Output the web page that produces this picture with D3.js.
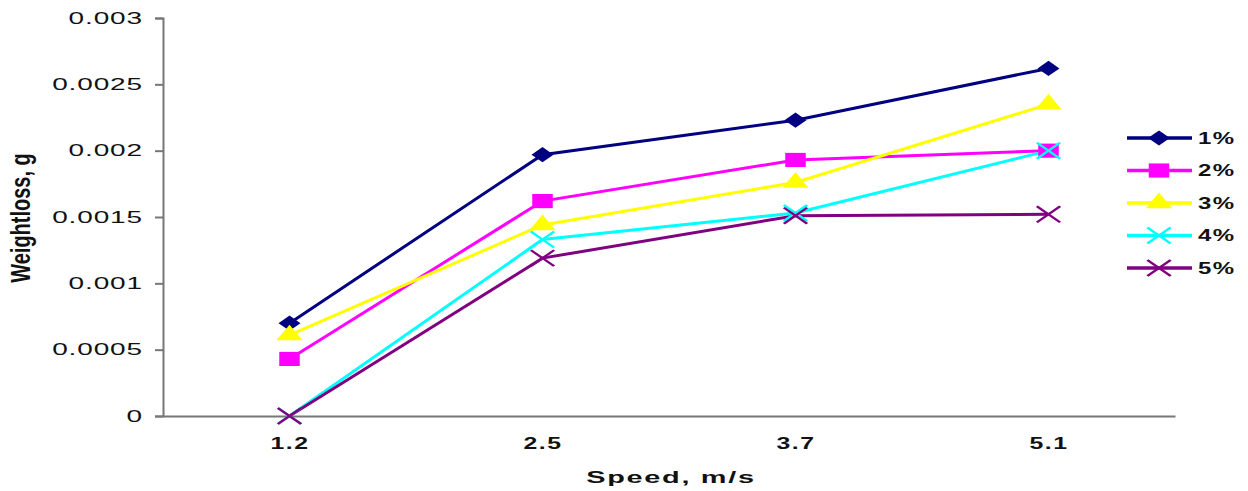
<!DOCTYPE html>
<html>
<head>
<meta charset="utf-8">
<script src="https://cdn.jsdelivr.net/npm/d3@7"></script>
<style>
  body { margin: 0; background: #fff; }
  text { font-family: "Liberation Sans", Arial, sans-serif; fill: #111; }
</style>
</head>
<body>
<div id="chart"></div>
<script>
// Data
var speeds = ['1.2', '2.5', '3.7', '5.1']
var seriesNames = ['1%', '2%', '3%', '4%', '5%']
var loss1 = [0.0007, 0.00197, 0.00223, 0.00262]
var loss2 = [0.00043, 0.00162, 0.00193, 0.002]
var loss3 = [0.00061, 0.00144, 0.00176, 0.00235]
var loss4 = [0, 0.00133, 0.00153, 0.002]
var loss5 = [0, 0.00119, 0.00151, 0.00152]
var yTicks = [0, 0.0005, 0.001, 0.0015, 0.002, 0.0025, 0.003]

var colors = ['#000080', '#ff00ff', '#ffff00', '#00ffff', '#800080']
var shapes = ['diamond', 'square', 'triangle', 'x', 'x']
var series = [loss1, loss2, loss3, loss4, loss5].map((vals, i) => {
  return { name: seriesNames[i], color: colors[i], shape: shapes[i], values: vals }
})

var width = 1248
var height = 491
var plot = { left: 163, right: 1175, top: 18, bottom: 416 }
// the picture is stretched sideways, so glyphs and markers are wider than tall
var stretch = 1.45

var svg = d3.select('#chart')
  .append('svg')
  .attr('width', width)
  .attr('height', height)

var x = d3.scalePoint().domain(speeds).range([plot.left, plot.right]).padding(0.5)
var y = d3.scaleLinear().domain([0, 0.003]).range([plot.bottom, plot.top])

// widen a text horizontally around its own x position
function widen(sel, sx) {
  sel.each(function() {
    var t = d3.select(this)
    var tx = +t.attr('x') || 0
    t.attr('x', tx / sx).attr('transform', `scale(${sx},1)`)
  })
}

// Y axis
var yAxis = d3.axisLeft(y)
  .tickValues(yTicks)
  .tickSize(8)
  .tickPadding(12)
  .tickFormat(d => d === 0 ? '0' : String(+d.toFixed(4)))

var yg = svg.append('g')
  .attr('transform', `translate(${plot.left},0)`)
  .call(yAxis)
yg.select('.domain').attr('stroke', '#777').attr('stroke-width', 2)
yg.selectAll('.tick line').attr('stroke', '#777').attr('stroke-width', 2)
yg.selectAll('.tick text')
  .attr('font-size', 16)
  .attr('font-family', '"Liberation Sans", Arial, sans-serif')
  .attr('fill', '#111')
  .attr('letter-spacing', 0.5)
  .call(widen, 1.75)

// X axis (no ticks)
var xAxis = d3.axisBottom(x).tickSize(0).tickPadding(22)
var xg = svg.append('g')
  .attr('transform', `translate(0,${plot.bottom})`)
  .call(xAxis)
xg.select('.domain').attr('stroke', '#777').attr('stroke-width', 2)
xg.selectAll('.tick text')
  .attr('font-size', 16)
  .attr('font-weight', 'bold')
  .attr('font-family', '"Liberation Sans", Arial, sans-serif')
  .attr('fill', '#111')
  .attr('letter-spacing', 1)
  .call(widen, 1.55)

// Axis titles
svg.append('text')
  .text('Speed, m/s')
  .attr('x', 671)
  .attr('y', 483)
  .attr('text-anchor', 'middle')
  .attr('font-size', 17)
  .attr('font-weight', 'bold')
  .attr('letter-spacing', 1)
  .call(widen, 1.7)

svg.append('text')
  .text('Weightloss, g')
  .attr('transform', 'translate(30,218) scale(1.35,1) rotate(-90)')
  .attr('text-anchor', 'middle')
  .attr('font-size', 20)
  .attr('font-weight', 'bold')

// Lines
var line = d3.line()
  .x((d, i) => x(speeds[i]))
  .y(d => y(d))

svg.append('g')
  .selectAll('path')
  .data(series)
  .enter().append('path')
  .attr('d', d => line(d.values))
  .attr('fill', 'none')
  .attr('stroke', d => d.color)
  .attr('stroke-width', 3)

// Markers
var symbolOf = {
  diamond: d3.symbol().type(d3.symbolSquare).size(115),
  square: d3.symbol().type(d3.symbolSquare).size(200),
  triangle: d3.symbol().type(d3.symbolTriangle).size(140),
  x: d3.symbol().type(d3.symbolX).size(170)
}

function drawMarker(sel, s) {
  var isX = s.shape === 'x'
  sel.attr('d', symbolOf[s.shape]())
    .attr('fill', isX ? 'none' : s.color)
    .attr('stroke', s.color)
    .attr('stroke-width', isX ? 2 : 0)
}

function markerTransform(px, py, s) {
  var rot = s.shape === 'diamond' ? ' rotate(45)' : ''
  return `translate(${px},${py}) scale(${stretch},1)${rot}`
}

series.forEach(s => {
  svg.append('g')
    .selectAll('path')
    .data(s.values)
    .enter().append('path')
    .attr('transform', (d, i) => markerTransform(x(speeds[i]), y(d), s))
    .call(drawMarker, s)
})

// Legend
var legend = svg.append('g')
  .attr('transform', 'translate(1127,138)')

var rows = legend.selectAll('g')
  .data(series)
  .enter().append('g')
  .attr('transform', (d, i) => `translate(0,${i * 32.5})`)

rows.append('line')
  .attr('x1', 0)
  .attr('x2', 65)
  .attr('stroke', d => d.color)
  .attr('stroke-width', 3.5)

rows.append('path')
  .attr('transform', d => markerTransform(32, 0, d))
  .each(function(d) { d3.select(this).call(drawMarker, d) })

rows.append('text')
  .text(d => d.name)
  .attr('x', 71)
  .attr('dy', '0.36em')
  .attr('font-size', 16)
  .attr('font-weight', 'bold')
  .attr('letter-spacing', 1)
  .call(widen, 1.5)
</script>
</body>
</html>
